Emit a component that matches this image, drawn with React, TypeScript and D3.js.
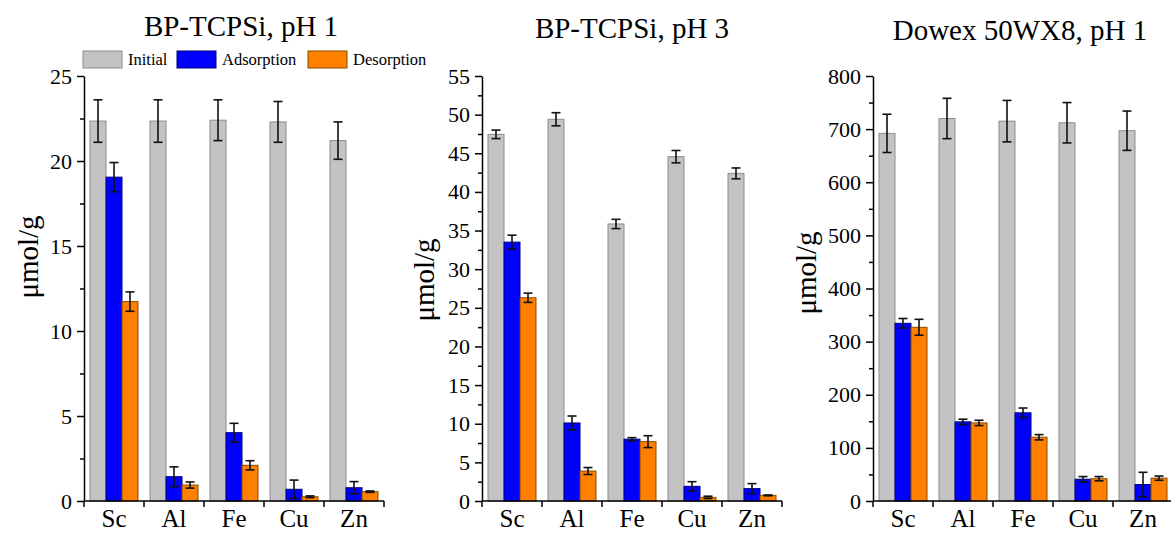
import React, { useEffect, useRef } from "react";
import * as d3 from "d3";

const elements = ["Sc", "Al", "Fe", "Cu", "Zn"];
const seriesNames = ["Initial", "Adsorption", "Desorption"];
const seriesFill = ["#c3c3c3", "#0000ff", "#ff8000"];
const seriesStroke = ["#8c8c8c", "#00007a", "#8a4a00"];

// BP-TCPSi, pH 1
const p1Initial = [22.35, 22.35, 22.4, 22.3, 21.2];
const p1InitialErr = [1.25, 1.25, 1.2, 1.2, 1.1];
const p1Ads = [19.05, 1.43, 4.02, 0.69, 0.78];
const p1AdsErr = [0.86, 0.58, 0.55, 0.54, 0.36];
const p1Des = [11.73, 0.94, 2.1, 0.25, 0.55];
const p1DesErr = [0.57, 0.18, 0.27, 0.05, 0.04];

// BP-TCPSi, pH 3
const p2Initial = [47.45, 49.4, 35.85, 44.56, 42.4];
const p2InitialErr = [0.55, 0.85, 0.6, 0.8, 0.7];
const p2Ads = [33.5, 10.1, 8.0, 1.9, 1.6];
const p2AdsErr = [0.9, 0.9, 0.2, 0.6, 0.65];
const p2Des = [26.3, 3.88, 7.68, 0.47, 0.73];
const p2DesErr = [0.6, 0.45, 0.77, 0.15, 0.05];

// Dowex 50WX8, pH 1
const p3Initial = [692, 720, 715, 712, 697];
const p3InitialErr = [36, 38, 39, 38, 37];
const p3Ads = [334.5, 149, 166, 41, 31];
const p3AdsErr = [9, 5, 9, 5, 23];
const p3Des = [327, 147, 120, 42, 43];
const p3DesErr = [15, 5, 5, 4, 4];

const panels = [
  {
    title: "BP-TCPSi, pH 1", titleX: 241, titleY: 36,
    x0: 84, yMax: 25, major: 5, minor: 2.5,
    values: [p1Initial, p1Ads, p1Des], errors: [p1InitialErr, p1AdsErr, p1DesErr],
    labelX: 38, labelY: 257, legend: true,
  },
  {
    title: "BP-TCPSi, pH 3", titleX: 632, titleY: 38,
    x0: 482, yMax: 55, major: 5, minor: 2.5,
    values: [p2Initial, p2Ads, p2Des], errors: [p2InitialErr, p2AdsErr, p2DesErr],
    labelX: 434, labelY: 280, legend: false,
  },
  {
    title: "Dowex 50WX8, pH 1", titleX: 1020, titleY: 40,
    x0: 873, yMax: 800, major: 100, minor: 50,
    values: [p3Initial, p3Ads, p3Des], errors: [p3InitialErr, p3AdsErr, p3DesErr],
    labelX: 816, labelY: 273, legend: false,
  },
];

const font = "'Liberation Serif', 'Times New Roman', serif";

const App = () => {
  const svgRef = useRef(null);

  useEffect(() => {
    const width = 1171, height = 533;
    const yBottom = 501, yTop = 76, axisLen = 300;

    const svg = d3.select(svgRef.current)
      .attr("width", width)
      .attr("height", height)
      .html("");

    svg.append("rect").attr("width", width).attr("height", height).attr("fill", "#fff");

    panels.forEach((p) => {
      const g = svg.append("g");

      const x = d3.scaleBand()
        .domain(elements)
        .range([p.x0, p.x0 + axisLen])
        .paddingInner(0.2)
        .paddingOuter(0.1);
      const xs = d3.scaleBand().domain(seriesNames).range([0, x.bandwidth()]);
      const y = d3.scaleLinear().domain([0, p.yMax]).range([yBottom, yTop]);

      // bars
      seriesNames.forEach((s, si) => {
        g.append("g")
          .selectAll("rect")
          .data(elements)
          .enter()
          .append("rect")
          .attr("x", (d) => x(d) + xs(s))
          .attr("y", (d, i) => y(p.values[si][i]))
          .attr("width", xs.bandwidth())
          .attr("height", (d, i) => yBottom - y(p.values[si][i]))
          .attr("fill", seriesFill[si])
          .attr("stroke", seriesStroke[si])
          .attr("stroke-width", 1);
      });

      // error bars
      seriesNames.forEach((s, si) => {
        const eg = g.append("g").attr("stroke", "#111").attr("stroke-width", 1.6);
        elements.forEach((d, i) => {
          const cx = x(d) + xs(s) + xs.bandwidth() / 2;
          const v = p.values[si][i], e = p.errors[si][i];
          const y1 = y(v + e), y2 = y(Math.max(0, v - e));
          eg.append("line").attr("x1", cx).attr("x2", cx).attr("y1", y1).attr("y2", y2);
          eg.append("line").attr("x1", cx - 4.5).attr("x2", cx + 4.5).attr("y1", y1).attr("y2", y1);
          eg.append("line").attr("x1", cx - 4.5).attr("x2", cx + 4.5).attr("y1", y2).attr("y2", y2);
        });
      });

      // y axis (major + minor)
      const majors = d3.range(0, p.yMax + 1e-9, p.major);
      const minors = d3.range(p.minor, p.yMax, p.major);
      const yAxis = g.append("g").attr("transform", `translate(${p.x0},0)`);
      yAxis.call(d3.axisLeft(y).tickValues(majors).tickSize(7).tickPadding(5).tickSizeOuter(0).tickFormat(d3.format("d")));
      yAxis.append("g").call(d3.axisLeft(y).tickValues(minors).tickSize(4).tickSizeOuter(0).tickFormat(() => ""))
        .select(".domain").remove();
      yAxis.selectAll("line").attr("stroke", "#000").attr("stroke-width", 1.5);
      yAxis.selectAll(".domain").attr("stroke", "#000").attr("stroke-width", 1.5);
      yAxis.selectAll("text")
        .style("font-family", font)
        .style("font-size", "22px")
        .attr("fill", "#000");

      // x axis
      const xAxis = g.append("g");
      xAxis.append("line")
        .attr("x1", p.x0).attr("x2", p.x0 + axisLen)
        .attr("y1", yBottom).attr("y2", yBottom)
        .attr("stroke", "#000").attr("stroke-width", 1.5);
      xAxis.selectAll("line.tick")
        .data(d3.range(elements.length + 1))
        .enter()
        .append("line")
        .attr("class", "tick")
        .attr("x1", (i) => p.x0 + i * x.step())
        .attr("x2", (i) => p.x0 + i * x.step())
        .attr("y1", yBottom)
        .attr("y2", yBottom + 6)
        .attr("stroke", "#000").attr("stroke-width", 1.5);
      xAxis.selectAll("text")
        .data(elements)
        .enter()
        .append("text")
        .attr("x", (d) => x(d) + x.bandwidth() / 2)
        .attr("y", 527)
        .attr("text-anchor", "middle")
        .style("font-family", font)
        .style("font-size", "25px")
        .text((d) => d);

      // title
      g.append("text")
        .attr("x", p.titleX).attr("y", p.titleY)
        .attr("text-anchor", "middle")
        .style("font-family", font)
        .style("font-size", "29px")
        .text(p.title);

      // y label
      g.append("text")
        .attr("transform", `translate(${p.labelX},${p.labelY}) rotate(-90)`)
        .attr("text-anchor", "middle")
        .style("font-family", font)
        .style("font-size", "29px")
        .text("\u03bcmol/g");

      // legend
      if (p.legend) {
        const legendX = [83, 177, 308];
        seriesNames.forEach((s, si) => {
          g.append("rect")
            .attr("x", legendX[si]).attr("y", 51)
            .attr("width", 39).attr("height", 17)
            .attr("fill", seriesFill[si])
            .attr("stroke", seriesStroke[si]);
          g.append("text")
            .attr("x", legendX[si] + 45).attr("y", 65)
            .style("font-family", font)
            .style("font-size", "16.5px")
            .text(s);
        });
      }
    });
  }, []);

  return <svg ref={svgRef} style={{ position: "absolute", left: 0, top: 0, display: "block" }}></svg>;
};

export default App;
